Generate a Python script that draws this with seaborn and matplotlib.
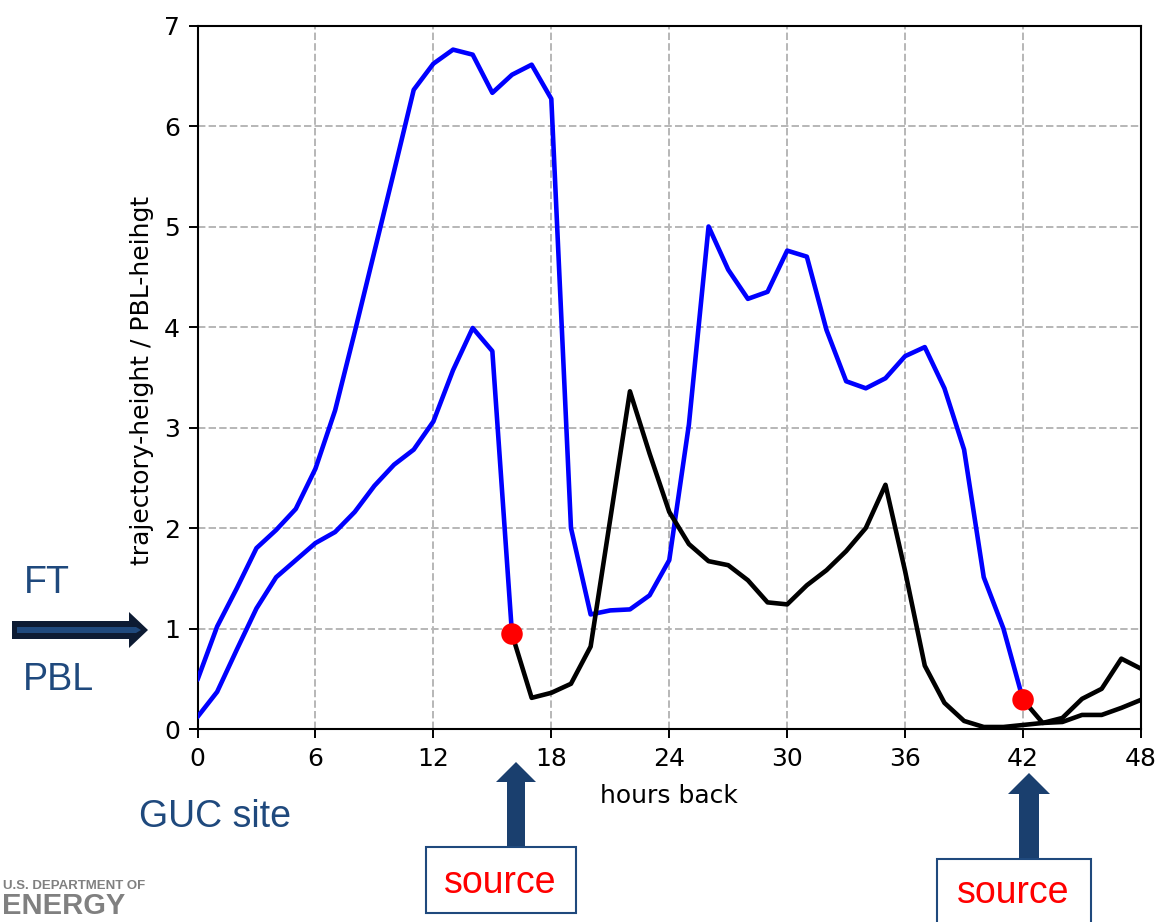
import numpy as np
import pandas as pd
import seaborn as sns
import matplotlib
matplotlib.use("Agg")
import matplotlib.pyplot as plt
from matplotlib.transforms import Affine2D
from matplotlib.patches import Polygon, Rectangle

# ---------------- data ----------------
hours = list(range(0, 49))
traj_a = [0.49, 1.02, 1.40, 1.80, 1.98, 2.19, 2.59, 3.17, 3.95, 4.75,
          5.55, 6.36, 6.62, 6.76, 6.71, 6.33, 6.51, 6.61, 6.27, 2.00,
          1.14, 1.18, 1.19, 1.33, 1.68, 3.03, 5.00, 4.57, 4.28, 4.35,
          4.76, 4.70, 3.97, 3.46, 3.39, 3.49, 3.71, 3.80, 3.39, 2.78,
          1.51, 1.00, 0.29, 0.06, 0.11, 0.30, 0.40, 0.70, 0.60]
traj_b = [0.12, 0.37, 0.79, 1.20, 1.51, 1.68, 1.85, 1.96, 2.16, 2.42,
          2.63, 2.78, 3.06, 3.57, 3.99, 3.76, 0.945, 0.31, 0.36, 0.45,
          0.82, 2.09, 3.36, 2.74, 2.16, 1.84, 1.67, 1.63, 1.48, 1.26,
          1.24, 1.43, 1.58, 1.77, 2.00, 2.43, 1.57, 0.63, 0.26, 0.08,
          0.02, 0.02, 0.04, 0.06, 0.07, 0.14, 0.14, 0.21, 0.29]
source_a_hour = 42   # trajectory A leaves the PBL-top here
source_b_hour = 16   # trajectory B
x_ticks = [0, 6, 12, 18, 24, 30, 36, 42, 48]
y_ticks = [0, 1, 2, 3, 4, 5, 6, 7]
x_label = "hours back"
y_label = "trajectory-height / PBL-heihgt"

W, H = 1160, 922
sns.set_style("ticks")
plt.rcParams["font.family"] = ["DejaVu Sans"]

fig = plt.figure(figsize=(W / 100, H / 100), dpi=100)
ax = fig.add_axes([197.5 / W, 1 - 729 / H, (1141 - 197.5) / W, 703.5 / H])

df = pd.DataFrame({"hour": hours, "a": traj_a, "b": traj_b})
lw = 3.3

def seg(col, lo, hi, color):
    d = df[(df.hour >= lo) & (df.hour <= hi)]
    sns.lineplot(data=d, x="hour", y=col, ax=ax, color=color, lw=lw,
                 sort=False, estimator=None, legend=False, zorder=3)

seg("a", 0, source_a_hour, "#0000ff")
seg("a", source_a_hour, 48, "black")
seg("b", 0, source_b_hour, "#0000ff")
seg("b", source_b_hour, 48, "black")

pts = pd.DataFrame({"hour": [source_b_hour, source_a_hour],
                    "val": [traj_b[source_b_hour], traj_a[source_a_hour]]})
sns.scatterplot(data=pts, x="hour", y="val", ax=ax, color="#ff0000",
                s=240, edgecolor="none", zorder=5, legend=False)

ax.set_xlim(0, 48)
ax.set_ylim(0, 7)
ax.set_xticks(x_ticks)
ax.set_yticks(y_ticks)
ax.grid(True, linestyle="--", color="#b8b8b8", linewidth=1.44)
ax.set_axisbelow(True)
for s in ax.spines.values():
    s.set_linewidth(1.5)
    s.set_color("black")
ax.tick_params(axis="both", labelsize=18, length=6.3, width=1.4,
               pad=6.3, colors="black", direction="out")
ax.set_xlabel(x_label, fontsize=18, color="black")
ax.set_ylabel(y_label, fontsize=18, color="black")
ax.xaxis.set_label_coords(0.50, -0.0775)
ax.yaxis.set_label_coords(-0.046, 0.496)

# ------------- overlay annotations (pixel coords, top-left origin) -------------
pxT = Affine2D().scale(1 / W, -1 / H).translate(0, 1) + fig.transFigure
navy = "#1f497d"
ann_font = ["Liberation Sans", "DejaVu Sans"]

fig.text(24, 593, "FT", transform=pxT, fontsize=27, color=navy,
         family=ann_font, ha="left", va="baseline")
fig.text(23, 690, "PBL", transform=pxT, fontsize=27, color=navy,
         family=ann_font, ha="left", va="baseline")
fig.text(139, 827, "GUC site", transform=pxT, fontsize=27, color=navy,
         family=ann_font, ha="left", va="baseline")

# right-pointing arrow at PBL top
outer = Polygon([(12, 621), (129, 621), (129, 612), (148, 630), (129, 648),
                 (129, 639), (12, 639)], closed=True, transform=pxT,
                facecolor="#0d1b33", edgecolor="none")
inner = Polygon([(17, 627), (136, 627), (141, 630), (136, 633), (17, 633)],
                closed=True, transform=pxT, facecolor=navy, edgecolor="none")
fig.add_artist(outer)
fig.add_artist(inner)

def up_arrow(cx, tip, base, bottom, hw, sw):
    p = Polygon([(cx - sw, bottom), (cx - sw, base), (cx - hw, base), (cx, tip),
                 (cx + hw, base), (cx + sw, base), (cx + sw, bottom)],
                closed=True, transform=pxT, facecolor="#1a3f6e", edgecolor="none")
    fig.add_artist(p)

up_arrow(516, 762, 782, 847, 20, 9)
up_arrow(1029, 773, 794, 859, 21, 10)

box1 = Rectangle((425.7, 846.5), 150, 66.5, transform=pxT, facecolor="white",
                 edgecolor=navy, linewidth=1.5)
box2 = Rectangle((937.3, 858.5), 153.4, 80, transform=pxT, facecolor="white",
                 edgecolor=navy, linewidth=1.5)
fig.add_artist(box1)
fig.add_artist(box2)
fig.text(500, 893, "source", transform=pxT, fontsize=27, color="#ff0000",
         family=ann_font, ha="center", va="baseline")
fig.text(1013, 903, "source", transform=pxT, fontsize=27, color="#ff0000",
         family=ann_font, ha="center", va="baseline")

# DOE logo text (kept inside the canvas)
fig.text(3, 889, "U.S. DEPARTMENT OF", transform=pxT, fontsize=9.5,
         color="#808080", family=ann_font, weight="bold", ha="left",
         va="baseline")
fig.text(2, 914, "ENERGY", transform=pxT, fontsize=21, color="#808080",
         family=ann_font, weight="bold", ha="left", va="baseline")

fig.savefig("out.png", dpi=100)
